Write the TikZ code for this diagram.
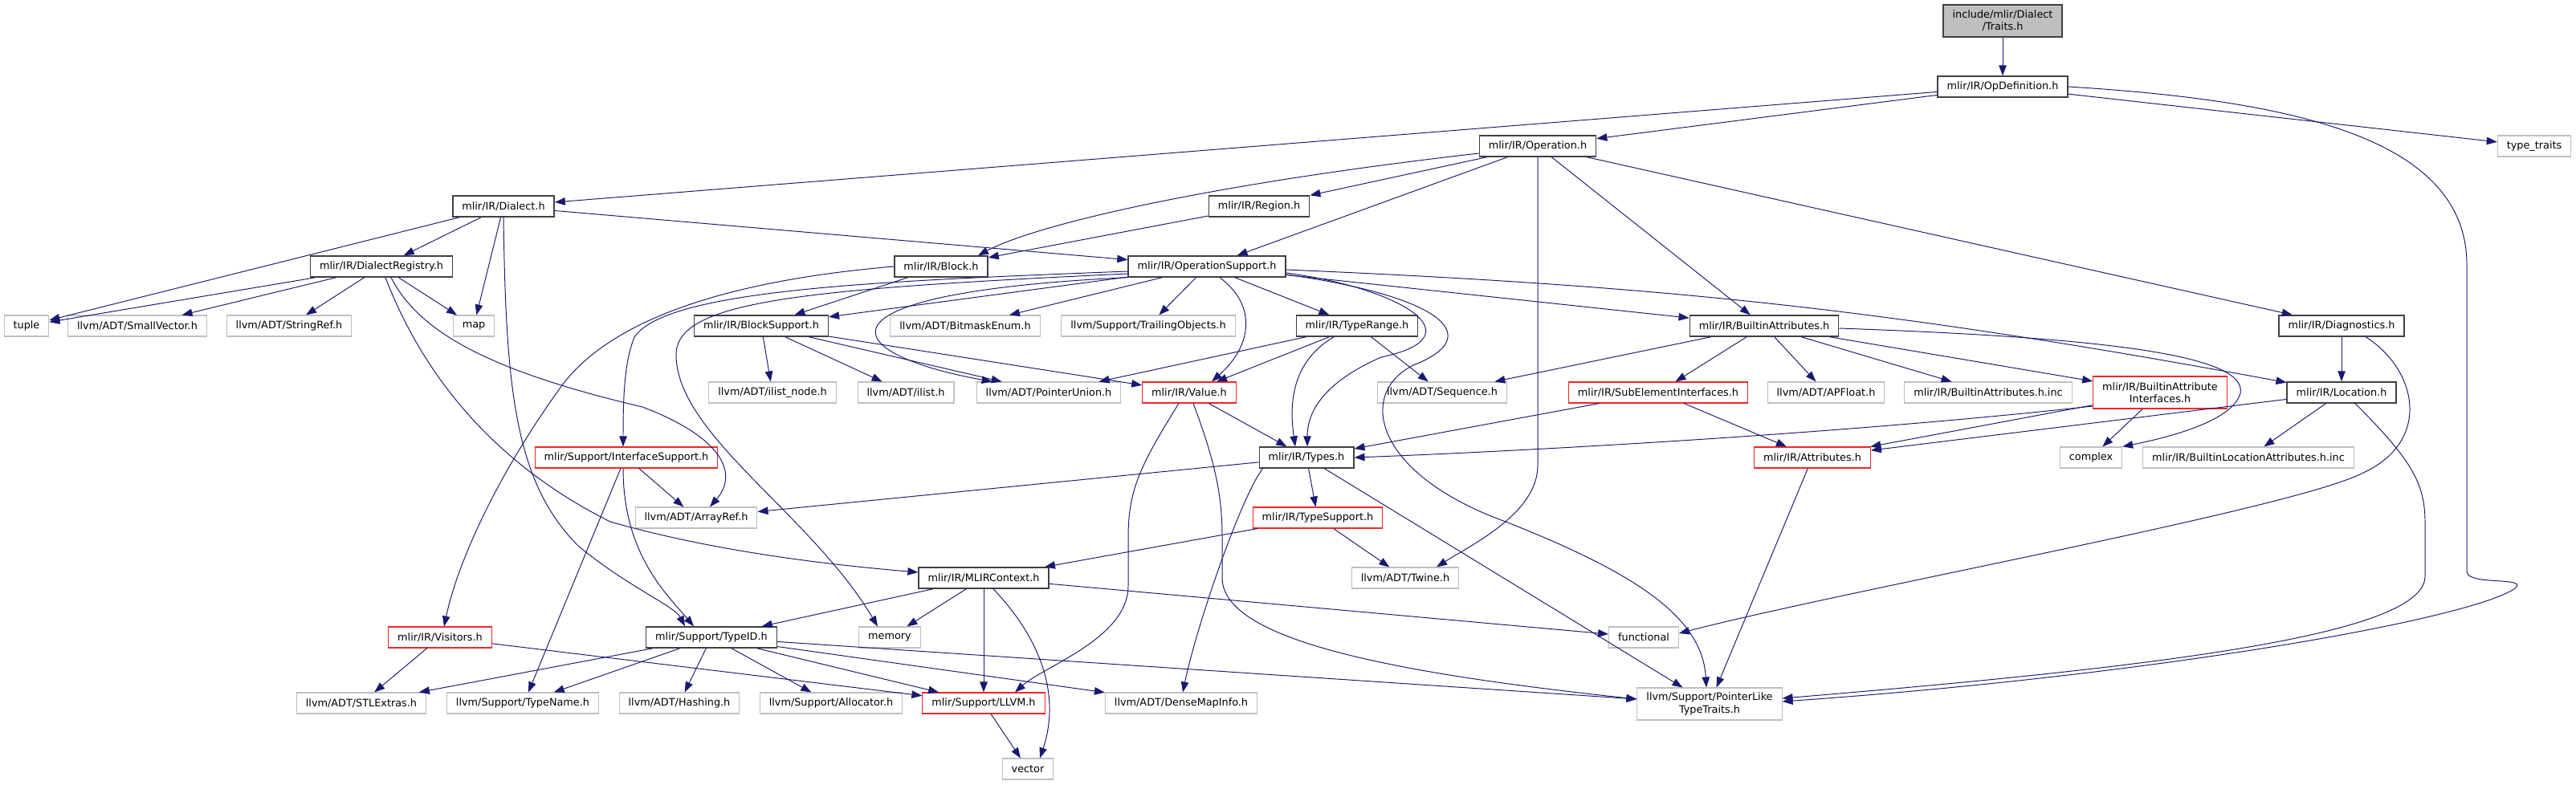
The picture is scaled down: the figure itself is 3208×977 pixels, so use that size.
\documentclass[tikz,border=0pt]{standalone}
\usepackage{fontspec}
\setmainfont{DejaVu Sans}
\usepackage{xcolor}
\usepackage{tikz}
\usetikzlibrary{arrows.meta,calc}
\definecolor{edgecol} {RGB}{25,25,112}
\definecolor{doccol}  {RGB}{64,64,64}
\definecolor{extcol}  {RGB}{191,191,191}
\definecolor{trunccol}{RGB}{240,40,40}

\begin{document}
\begin{tikzpicture}[
  x=0.02cm,y=-0.02cm,
  hbox/.style={rectangle,draw=doccol,fill=white,line width=0.8pt,
               font=\fontsize{7.3}{8.6}\selectfont,
               inner xsep=0.23cm,inner ysep=0pt,minimum height=0.52cm},
  xbox/.style={hbox,draw=extcol,line width=0.6pt},
  redbox/.style={hbox,draw=trunccol,line width=0.6pt},
  rootbox/.style={hbox,fill=extcol,align=center,minimum height=0.8cm},
  two/.style={align=center,minimum height=0.8cm},
  arr/.style={-{Triangle[length=0.26cm,width=0.19cm]},line width=0.55pt,edgecol},
  >=Stealth
]
\useasboundingbox (0,0) rectangle (3208,977);

\node[rootbox] (traits) at (2494,26) {include/mlir/Dialect\\/Traits.h};
\node[hbox] (opdef) at (2494,108) {mlir/IR/OpDefinition.h};
\node[xbox] (typetraits) at (3156,182) {type\_traits};
\node[hbox] (operation) at (1915,182) {mlir/IR/Operation.h};
\node[hbox] (dialect) at (627,257) {mlir/IR/Dialect.h};
\node[hbox] (region) at (1568,257) {mlir/IR/Region.h};
\node[hbox] (registry) at (475,332) {mlir/IR/DialectRegistry.h};
\node[hbox] (block) at (1172,332) {mlir/IR/Block.h};
\node[hbox] (opsupport) at (1503,332) {mlir/IR/OperationSupport.h};
\node[xbox] (tuple) at (33,406) {tuple};
\node[xbox] (smallvec) at (171,406) {llvm/ADT/SmallVector.h};
\node[xbox] (stringref) at (360,406) {llvm/ADT/StringRef.h};
\node[xbox] (map) at (590,406) {map};
\node[hbox] (blocksupport) at (948,406) {mlir/IR/BlockSupport.h};
\node[xbox] (bitmask) at (1202,406) {llvm/ADT/BitmaskEnum.h};
\node[xbox] (trailing) at (1430,406) {llvm/Support/TrailingObjects.h};
\node[hbox] (typerange) at (1690,406) {mlir/IR/TypeRange.h};
\node[hbox] (builtinattr) at (2197,406) {mlir/IR/BuiltinAttributes.h};
\node[hbox] (diagnostics) at (2916,406) {mlir/IR/Diagnostics.h};
\node[xbox] (ilistnode) at (962,489) {llvm/ADT/ilist\_node.h};
\node[xbox] (ilist) at (1128,489) {llvm/ADT/ilist.h};
\node[xbox] (ptrunion) at (1306,489) {llvm/ADT/PointerUnion.h};
\node[redbox] (value) at (1481,489) {mlir/IR/Value.h};
\node[xbox] (sequence) at (1796,489) {llvm/ADT/Sequence.h};
\node[redbox] (subelem) at (2065,489) {mlir/IR/SubElementInterfaces.h};
\node[xbox] (apfloat) at (2274,489) {llvm/ADT/APFloat.h};
\node[xbox] (attrinc) at (2476,489) {mlir/IR/BuiltinAttributes.h.inc};
\node[redbox,two] (attriface) at (2690,489) {mlir/IR/BuiltinAttribute\\Interfaces.h};
\node[hbox] (location) at (2916,489) {mlir/IR/Location.h};
\node[redbox] (ifacesupport) at (780,570) {mlir/Support/InterfaceSupport.h};
\node[hbox] (types) at (1627,570) {mlir/IR/Types.h};
\node[redbox] (attributes) at (2257,570) {mlir/IR/Attributes.h};
\node[xbox] (complex) at (2604,570) {complex};
\node[xbox] (locinc) at (2800,570) {mlir/IR/BuiltinLocationAttributes.h.inc};
\node[xbox] (arrayref) at (867,645) {llvm/ADT/ArrayRef.h};
\node[redbox] (typesupport) at (1641,645) {mlir/IR/TypeSupport.h};
\node[hbox] (mlirctx) at (1225,720) {mlir/IR/MLIRContext.h};
\node[xbox] (twine) at (1750,720) {llvm/ADT/Twine.h};
\node[redbox] (visitors) at (548,794) {mlir/IR/Visitors.h};
\node[hbox] (typeid) at (886,794) {mlir/Support/TypeID.h};
\node[xbox] (memory) at (1108,794) {memory};
\node[xbox] (functional) at (2047,794) {functional};
\node[xbox] (stlextras) at (450,876) {llvm/ADT/STLExtras.h};
\node[xbox] (typename) at (651,876) {llvm/Support/TypeName.h};
\node[xbox] (hashing) at (846,876) {llvm/ADT/Hashing.h};
\node[xbox] (allocator) at (1035,876) {llvm/Support/Allocator.h};
\node[redbox] (llvmh) at (1225,876) {mlir/Support/LLVM.h};
\node[xbox] (densemap) at (1471,876) {llvm/ADT/DenseMapInfo.h};
\node[xbox,two] (ptrlike) at (2129,877) {llvm/Support/PointerLike\\TypeTraits.h};
\node[xbox] (vector) at (1280,958) {vector};

\draw[arr] (traits) -- (opdef);
\draw[arr] (opdef) -- (dialect);
\draw[arr] (opdef) -- (operation);
\draw[arr] (opdef) -- (typetraits);
\draw[arr] (opdef.east) .. controls (2850,125) and (3072,170) .. (3072,330) -- (3072,712)
  .. controls (3072,730) and (3150,718) .. (3132,733)
  .. controls (3080,770) and (2700,840) .. ($(ptrlike.east)+(0,-3)$);

\draw[arr] (operation) -- (region);
\draw[arr] ($(operation.west)+(0,9)$) .. controls (1500,230) and (1290,280) .. ($(block.north)+(46,0)$);
\draw[arr] (region) -- (block);
\draw[arr] (operation) -- (opsupport);
\draw[arr] (operation.south) -- (1915,580) .. controls (1915,640) and (1830,680) .. ($(twine.north)+(39,0)$);
\draw[arr] (operation) -- (builtinattr);
\draw[arr] (operation) -- (diagnostics);

\draw[arr] (dialect) -- (tuple);
\draw[arr] (dialect) -- (registry);
\draw[arr] (dialect) -- (map);
\draw[arr] (dialect) -- (opsupport);
\draw[arr] (dialect.south) .. controls (630,480) and (640,600) .. (720,680)
  .. controls (780,730) and (840,755) .. ($(typeid.north)+(-33,0)$);

\draw[arr] (registry) -- (tuple);
\draw[arr] (registry) -- (smallvec);
\draw[arr] (registry) -- (stringref);
\draw[arr] (registry) -- (map);
\draw[arr] ($(registry.south)+(5,0)$) .. controls (520,450) and (600,570) .. (760,650)
  .. controls (900,690) and (1050,705) .. ($(mlirctx.west)+(0,-7)$);
\draw[arr] ($(registry.south)+(12,0)$) .. controls (520,410) and (600,460) .. (800,507)
  .. controls (900,545) and (920,590) .. ($(arrayref.north)+(17,0)$);

\draw[arr] (block) -- (blocksupport);
\draw[arr] (block.west) .. controls (900,350) and (760,400) .. (700,480)
  .. controls (620,590) and (570,700) .. ($(visitors.north)+(5,0)$);

\draw[arr] (opsupport) -- (blocksupport);
\draw[arr] (opsupport) -- (bitmask);
\draw[arr] (opsupport) -- (trailing);
\draw[arr] (opsupport.south west) .. controls (1000,365) and (1040,440) .. ($(ptrunion.north west)+(20,0)$);
\draw[arr] ($(opsupport.south)+(16,0)$) .. controls (1565,380) and (1560,430) .. ($(value.north)+(28,0)$);
\draw[arr] ($(opsupport.west)+(0,6)$) .. controls (1100,350) and (830,360) .. (790,420)
  .. controls (778,450) and (776,490) .. ($(ifacesupport.north)+(-4,0)$);
\draw[arr] ($(opsupport.west)+(0,9)$) .. controls (1000,360) and (845,375) .. (842,440)
  .. controls (840,540) and (1010,640) .. ($(memory.north)+(-15,0)$);
\draw[arr] (opsupport) -- (typerange);
\draw[arr] ($(opsupport.east)+(0,8)$) .. controls (1750,360) and (1840,420) .. (1720,445)
  .. controls (1640,480) and (1628,520) .. ($(types.north)+(1,0)$);
\draw[arr] ($(opsupport.east)+(0,10)$) .. controls (1800,370) and (1850,420) .. (1760,455)
  .. controls (1690,490) and (1710,590) .. (1875,650)
  .. controls (2040,715) and (2120,770) .. ($(ptrlike.north)+(-4,0)$);
\draw[arr] (opsupport) -- (builtinattr);
\draw[arr] (opsupport) to[bend left=4] (location);

\draw[arr] ($(typerange.south)+(-29,0)$) .. controls (1610,450) and (1605,500) .. ($(types.north)+(-14,0)$);
\draw[arr] (typerange) -- (ptrunion);
\draw[arr] (typerange) -- (value);
\draw[arr] (typerange) -- (sequence);

\draw[arr] (builtinattr) -- (sequence);
\draw[arr] (builtinattr) -- (subelem);
\draw[arr] (builtinattr) -- (apfloat);
\draw[arr] (builtinattr) -- (attrinc);
\draw[arr] (builtinattr) -- (attriface);
\draw[arr] ($(builtinattr.east)+(0,3)$) .. controls (2600,420) and (2800,440) .. (2790,490)
  .. controls (2780,525) and (2700,545) .. (complex.north east);

\draw[arr] (diagnostics) -- (location);
\draw[arr] ($(diagnostics.south)+(30,0)$) .. controls (3010,460) and (3030,550) .. (2941,590)
  .. controls (2850,635) and (2300,735) .. ($(functional.east)+(0,-5)$);

\draw[arr] (location) -- (attributes);
\draw[arr] (location) -- (locinc);
\draw[arr] ($(location.south)+(17,0)$) .. controls (3000,570) and (3020,600) .. (3020,650) -- (3020,718)
  .. controls (3020,790) and (2700,830) .. ($(ptrlike.east)+(0,-7)$);

\draw[arr] ($(attriface.west)+(0,17)$) .. controls (2300,540) and (1900,562) .. (types.east);
\draw[arr] (attriface) -- (attributes);
\draw[arr] (attriface) -- (complex);
\draw[arr] (subelem) -- (types);
\draw[arr] (subelem) -- (attributes);
\draw[arr] (attributes) -- (ptrlike);

\draw[arr] (blocksupport) -- (ilistnode);
\draw[arr] (blocksupport) -- (ilist);
\draw[arr] (blocksupport) -- (ptrunion);
\draw[arr] (blocksupport) -- (value);

\draw[arr] (value) -- (types);
\draw[arr] ($(value.south)+(-13,0)$) .. controls (1420,580) and (1405,610) .. (1405,670) -- (1405,730)
  .. controls (1405,795) and (1300,830) .. ($(llvmh.north)+(39,0)$);
\draw[arr] ($(value.south)+(5,0)$) .. controls (1515,580) and (1522,620) .. (1522,670) -- (1522,720)
  .. controls (1522,800) and (1750,840) .. ($(ptrlike.west)+(0,-6)$);

\draw[arr] (ifacesupport) -- (arrayref);
\draw[arr] ($(ifacesupport.south)+(-4,0)$) .. controls (776,690) and (830,740) .. ($(typeid.north)+(-22,0)$);
\draw[arr] ($(ifacesupport.south)+(-7,0)$) -- ($(typename.north)+(7,0)$);

\draw[arr] (types) -- (arrayref);
\draw[arr] (types) -- (typesupport);
\draw[arr] (types) -- (ptrlike);
\draw[arr] ($(types.south west)+(5,0)$) .. controls (1545,620) and (1490,780) .. ($(densemap.north)+(2,0)$);

\draw[arr] (typesupport) -- (mlirctx);
\draw[arr] (typesupport) -- (twine);

\draw[arr] (mlirctx) -- (typeid);
\draw[arr] (mlirctx) -- (memory);
\draw[arr] (mlirctx) -- (llvmh);
\draw[arr] (mlirctx) -- (functional);
\draw[arr] ($(mlirctx.south)+(12,0)$) .. controls (1300,800) and (1320,870) .. ($(vector.north)+(15,0)$);
\draw[arr] (llvmh) -- (vector);

\draw[arr] (visitors) -- (stlextras);
\draw[arr] (visitors) -- (llvmh);

\draw[arr] (typeid) -- (stlextras);
\draw[arr] (typeid) -- (typename);
\draw[arr] (typeid) -- (hashing);
\draw[arr] (typeid) -- (allocator);
\draw[arr] (typeid) -- (llvmh);
\draw[arr] (typeid) -- (densemap);
\draw[arr] (typeid) -- (ptrlike);
\end{tikzpicture}
\end{document}
